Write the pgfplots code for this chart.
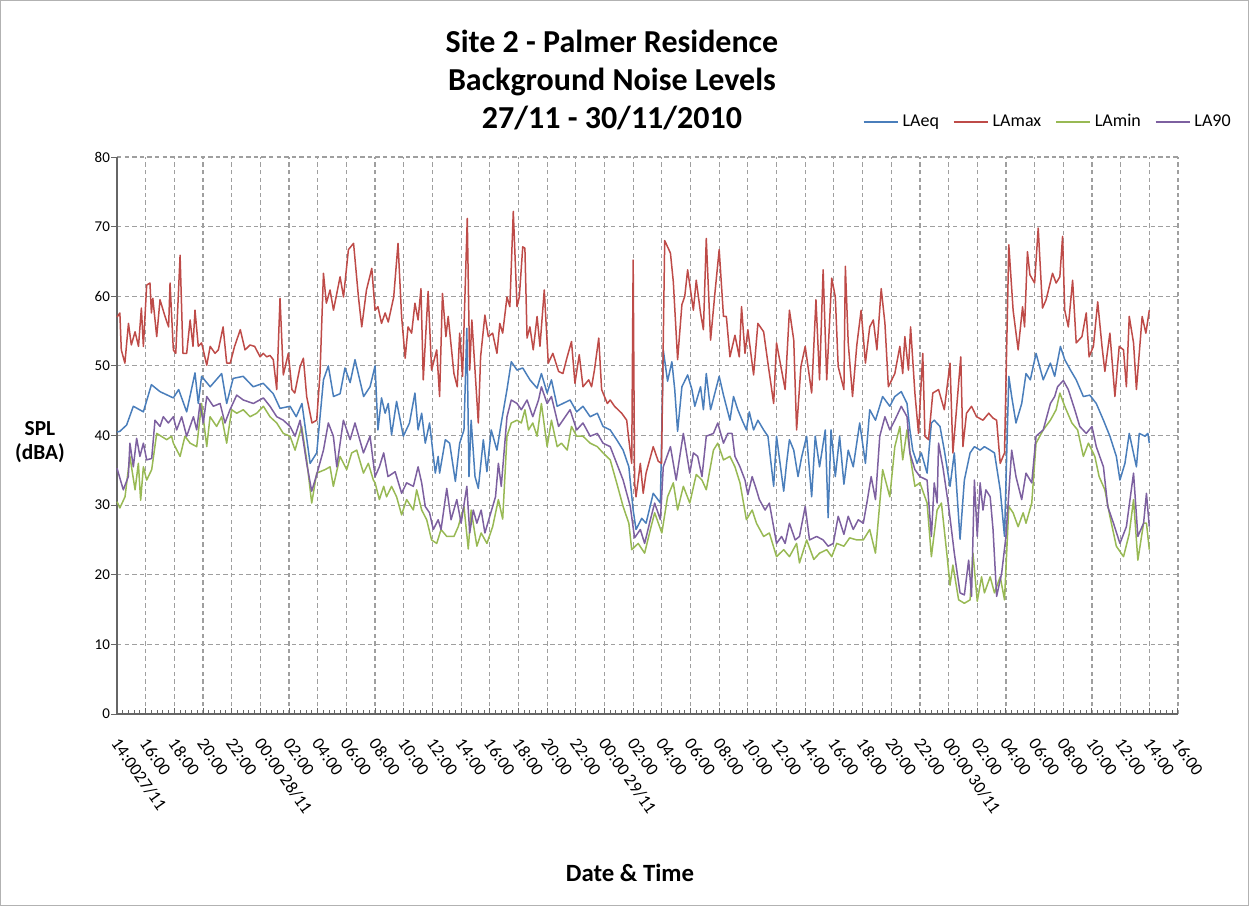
\documentclass[border=0pt]{standalone}
\usepackage{fontspec}
\setmainfont{Carlito}
\usepackage{pgfplots}
\pgfplotsset{compat=1.18}
\definecolor{cEq}{HTML}{4A7EBB}
\definecolor{cMax}{HTML}{BE4B48}
\definecolor{cMin}{HTML}{98B954}
\definecolor{cNinety}{HTML}{7D60A0}
\begin{document}
\begin{tikzpicture}
\path[use as bounding box] (-58.5pt,-96pt) rectangle (566pt,357pt);
\draw[gray!60, line width=0.5pt] (-58.25pt,-95.75pt) rectangle (565.75pt,356.75pt);
\begin{axis}[
    width=530.5pt, height=278.5pt, scale only axis,
    xmin=0, xmax=74, ymin=0, ymax=80,
    axis x line=bottom, axis y line=left,
    axis line style={-, draw=gray!80!black, line width=0.6pt},
    xtick={0,2,...,74},
    xticklabels={14:0027/11,16:00,18:00,20:00,22:00,00:00 28/11,02:00,04:00,06:00,08:00,10:00,12:00,14:00,16:00,18:00,20:00,22:00,00:00 29/11,02:00,04:00,06:00,08:00,10:00,12:00,14:00,16:00,18:00,20:00,22:00,00:00 30/11,02:00,04:00,06:00,08:00,10:00,12:00,14:00,16:00},
    minor x tick num=4,
    ytick={0,10,...,80},
    tick align=inside,
    major tick length=3pt, minor tick length=2pt,
    tick style={gray!80!black, line width=0.5pt},
    ytick style={xshift=-3pt},
    grid=major,
    major grid style={gray!75, dash pattern=on 2.2pt off 1.6pt, line width=0.6pt},
    /pgf/number format/assume math mode=true,
    xticklabel style={font=\fontsize{8.8}{10}\selectfont, xshift=-1pt, yshift=-13pt, rotate=-55, anchor=west, inner sep=0pt},
    yticklabel style={font=\fontsize{7.5}{9}\selectfont},
    legend style={at={(1.0595,1.063)}, anchor=east, legend columns=4, draw=none, fill=none,
        font=\fontsize{9}{10}\selectfont,
        /tikz/every even column/.append style={column sep=5pt}},
    legend cell align=left,
    clip=false,
    every axis plot/.append style={line width=0.75pt, no markers, line join=round},
]
\addplot[cEq] coordinates {
(0,40.5)(0.2,40.6)(0.67,41.5)(1.14,44.2)(1.84,43.4)(2.4,47.3)(3.0,46.3)(3.93,45.4)(4.3,46.6)(4.86,43.4)(5.44,49.0)(5.67,44.6)(5.9,48.5)(6.5,47.0)(7.3,48.9)(7.65,44.6)(8.1,48.2)(8.8,48.5)(9.5,47.0)(10.2,47.5)(10.9,46.0)(11.37,43.9)(12.07,44.2)(12.5,42.7)(12.9,44.6)(13.47,36.0)(13.93,37.5)(14.4,48.0)(14.74,50.0)(15.1,45.6)(15.56,46.0)(15.9,49.7)(16.26,47.6)(16.6,50.9)(17.2,45.6)(17.65,47.0)(18.0,50.0)
(18.2,40.8)(18.45,45.4)(18.7,43.2)(18.92,44.6)(19.15,40.1)(19.5,44.9)(19.97,39.9)(20.4,41.8)(20.78,46.1)(21.0,40.8)(21.25,43.2)(21.5,38.9)(21.8,41.8)(22.2,34.6)(22.4,37.0)(22.5,34.6)(22.9,39.4)(23.2,38.9)(23.6,33.4)(23.9,38.9)(24.2,40.8)(24.4,55.4)(24.55,34.1)(24.7,42.2)(24.97,34.1)(25.2,32.4)(25.55,39.4)(25.8,34.8)(26.1,40.8)(26.5,37.9)(26.8,41.8)(27.2,46.6)(27.5,50.6)(27.9,49.4)(28.3,49.7)(28.8,48.0)(29.3,46.8)(29.6,48.9)(30.0,46.1)(30.3,48.0)(30.7,44.2)(31.1,44.6)(31.6,45.1)(32.06,43.4)(32.5,44.2)(33.0,42.7)(33.5,43.2)(33.9,41.3)(34.4,40.8)(34.85,39.4)(35.3,37.9)(35.7,35.5)
(36.0,29.3)(36.2,26.5)(36.6,28.1)(36.9,27.4)(37.4,31.7)(37.9,30.3)(38.1,52.3)(38.4,47.8)(38.7,50.6)(38.9,46.6)(39.1,40.6)(39.4,47.0)(39.8,48.7)(40.1,46.6)(40.3,44.2)(40.7,47.0)(40.9,43.7)(41.1,48.9)(41.4,43.7)(41.7,46.1)(42.0,48.5)(42.3,45.8)(42.75,42.2)(43.0,45.6)(43.3,43.7)(43.6,42.2)(43.9,40.8)(44.1,43.4)(44.4,40.8)(44.7,42.2)(45.1,40.8)(45.4,39.9)(45.8,32.7)(46.0,39.9)(46.5,32.0)(46.7,36.0)(46.9,39.4)(47.2,37.9)(47.5,34.1)(47.75,36.9)(48.1,39.9)(48.45,31.2)(48.7,39.9)(49.0,35.5)(49.4,40.8)(49.6,28.2)(49.8,40.8)(50.1,34.1)(50.4,39.9)(50.7,33.0)(51.0,37.9)(51.35,35.5)(51.8,41.8)(52.2,36.0)(52.5,43.7)(52.9,42.2)(53.4,45.6)(53.9,44.2)
(54.25,45.6)(54.7,46.3)(55.1,44.6)(55.3,40.8)(55.5,37.9)(55.8,36.0)(56.1,37.5)(56.5,34.6)(56.8,41.8)(57.0,42.2)(57.4,41.3)(57.7,37.9)(58.1,32.7)(58.4,37.5)(58.8,25.1)(59.1,33.6)(59.5,37.5)(59.8,38.4)(60.2,37.9)(60.5,38.4)(60.9,37.9)(61.2,37.5)(61.6,32.2)(61.9,25.5)(62.2,48.5)(62.4,45.6)(62.7,41.8)(63.1,44.6)(63.4,48.9)(63.7,48.0)(64.1,51.8)(64.6,48.0)(65.1,50.4)(65.4,48.5)(65.8,52.8)(66.1,50.9)(66.5,49.4)(66.9,48.0)(67.4,45.6)(67.85,45.8)(68.3,44.6)(68.8,42.2)(69.25,39.9)(69.7,37.0)(69.95,33.6)(70.3,36.0)(70.6,40.3)(71.1,35.5)(71.3,40.3)(71.7,39.9)(71.9,40.3)(72.0,38.9)
};
\addlegendentry{LAeq}
\addplot[cMax] coordinates {
(0,57.0)(0.2,57.6)(0.3,52.3)(0.55,50.4)(0.8,56.1)(1.0,53.0)(1.26,54.9)(1.5,52.8)(1.7,58.3)(1.84,52.8)(2.07,61.6)(2.3,61.9)(2.4,57.6)(2.5,59.7)(2.77,54.2)(3.0,59.5)(3.35,57.1)(3.6,55.6)(3.7,61.9)(3.93,52.3)(4.1,51.8)(4.4,65.9)(4.6,51.8)(4.86,51.8)(5.1,56.6)(5.3,52.8)(5.44,58.0)(5.67,52.8)(5.9,53.3)(6.26,50.1)(6.5,52.8)(6.84,51.8)(7.07,52.3)(7.4,55.6)(7.65,50.4)(7.9,50.4)(8.2,52.8)(8.6,55.2)(8.93,52.3)(9.28,53.0)(9.6,52.8)(9.98,51.3)(10.2,51.8)(10.44,51.3)(10.67,51.5)(10.9,50.9)(11.14,46.6)(11.37,59.7)(11.6,48.7)(11.95,51.8)(12.2,46.6)(12.4,46.1)(12.77,49.9)(13.0,51.1)(13.23,45.6)(13.6,41.8)(13.93,42.2)(14.16,48.9)(14.4,63.3)(14.6,59.0)(14.86,60.9)(15.1,58.0)(15.56,62.8)(15.8,59.9)(16.14,66.7)(16.5,67.6)(16.84,59.9)(17.07,55.6)(17.4,60.9)(17.77,64.0)(18.0,58.0)
(18.2,58.5)(18.45,56.1)(18.7,57.6)(18.92,56.3)(19.3,59.9)(19.6,67.6)(19.85,57.1)(20.1,51.1)(20.3,55.6)(20.55,54.7)(20.78,59.0)(21.0,56.6)(21.2,61.1)(21.36,48.0)(21.7,60.7)(21.94,49.4)(22.3,52.3)(22.5,45.6)(22.7,60.4)(22.94,54.2)(23.1,57.1)(23.5,48.9)(23.73,47.0)(23.9,54.7)(24.1,48.5)(24.43,71.2)(24.6,49.4)(24.75,56.6)(24.97,49.4)(25.2,41.8)(25.36,51.3)(25.66,57.3)(25.9,54.2)(26.2,54.7)(26.5,51.8)(26.7,56.1)(26.9,54.7)(27.2,59.9)(27.4,58.5)(27.64,72.2)(27.9,58.5)(28.06,59.9)(28.3,67.1)(28.45,66.9)(28.6,54.0)(28.8,55.6)(29.03,52.3)(29.3,57.1)(29.5,52.8)(29.8,60.9)(30.08,50.4)(30.4,51.8)(30.8,49.2)(31.1,48.9)(31.4,51.3)(31.7,53.5)(31.94,47.5)(32.24,51.6)(32.5,47.0)(32.9,48.0)(33.1,47.0)(33.3,49.4)(33.6,54.0)(33.8,46.6)(34.2,44.6)(34.4,45.1)(34.7,44.2)(35.2,43.2)(35.55,42.2)(35.66,40.1)(35.9,36.0)(36.0,65.2)
(36.1,33.2)(36.2,31.2)(36.5,36.0)(36.7,31.7)(36.9,34.6)(37.4,38.4)(37.75,36.3)(37.98,36.0)(38.2,68.0)(38.6,66.2)(38.8,62.1)(39.1,50.9)(39.4,58.8)(39.6,60.0)(39.8,63.8)(40.2,58.0)(40.4,62.3)(40.7,57.6)(40.9,55.2)(41.1,68.3)(41.4,53.7)(41.7,60.4)(42.0,66.7)(42.3,57.1)(42.5,57.1)(42.75,51.3)(43.1,54.4)(43.4,51.3)(43.56,58.5)(43.8,51.8)(44.0,55.2)(44.4,48.7)(44.7,56.1)(45.1,54.9)(45.4,50.4)(45.8,44.6)(46.0,53.3)(46.6,46.6)(46.9,58.0)(47.2,53.7)(47.4,40.8)(47.7,49.9)(48.0,52.8)(48.45,46.1)(48.75,59.5)(49.0,48.0)(49.25,63.8)(49.5,48.0)(49.85,62.6)(50.1,59.9)(50.3,49.9)(50.7,46.6)(50.8,64.3)(51.0,53.3)(51.3,45.6)(51.6,53.0)(51.9,58.0)(52.2,50.4)(52.5,55.6)(52.75,56.6)(53.0,52.3)(53.3,61.1)(53.56,56.1)(53.8,47.0)
(54.25,48.9)(54.6,52.8)(54.8,48.9)(54.95,54.2)(55.2,49.4)(55.35,55.6)(55.65,46.1)(55.9,40.3)(56.2,51.8)(56.35,39.9)(56.6,39.4)(56.9,46.1)(57.3,46.6)(57.7,43.7)(58.1,50.4)(58.3,37.5)(58.55,43.7)(58.85,51.3)(59.0,38.4)(59.25,43.2)(59.6,44.2)(59.95,42.7)(60.4,42.2)(60.8,43.2)(61.1,42.5)(61.35,42.2)(61.6,36.0)(61.9,37.5)(62.2,67.4)(62.5,58.0)(62.85,52.3)(63.16,58.5)(63.3,55.6)(63.5,66.4)(63.67,63.1)(64.0,61.9)(64.25,69.8)(64.55,58.3)(64.8,59.5)(65.25,63.3)(65.5,61.9)(65.76,62.8)(65.95,68.6)(66.1,58.0)(66.35,55.6)(66.65,62.3)(66.9,53.3)(67.3,54.2)(67.6,57.6)(67.8,51.3)(68.1,52.8)(68.4,59.2)(68.7,52.8)(68.9,49.2)(69.25,54.7)(69.6,45.6)(69.9,52.8)(70.2,52.3)(70.4,47.0)(70.6,57.1)(70.9,53.3)(71.1,46.6)(71.5,57.1)(71.76,54.7)(72.0,58.0)
};
\addlegendentry{LAmax}
\addplot[cMin] coordinates {
(0,30.5)(0.2,29.6)(0.56,31.2)(0.9,37.0)(1.26,32.2)(1.49,36.0)(1.65,30.7)(1.84,35.5)(2.07,33.6)(2.42,35.1)(2.77,40.3)(3.47,39.4)(3.81,39.9)(3.93,38.9)(4.4,37.0)(4.74,39.9)(5.1,38.9)(5.56,38.4)(5.9,44.6)(6.26,38.4)(6.49,42.7)(6.95,41.3)(7.3,42.7)(7.65,38.9)(8.0,43.7)(8.35,43.2)(8.81,43.7)(9.28,42.7)(9.74,43.2)(10.21,44.2)(10.67,42.7)(11.14,41.8)(11.6,40.3)(12.07,39.9)(12.42,37.9)(12.88,41.3)(13.23,36.5)(13.58,30.3)(13.93,34.6)(14.51,35.1)(14.86,35.5)(15.09,32.7)(15.56,37.0)(16.02,35.1)(16.37,37.5)(16.72,37.9)(17.19,34.6)(17.53,36.0)(17.88,33.6)
(18.0,33.2)(18.3,30.8)(18.6,32.7)(18.8,31.2)(19.15,32.7)(19.5,31.2)(19.85,28.6)(20.2,30.8)(20.67,29.3)(20.9,32.2)(21.25,29.3)(21.6,27.9)(21.94,25.0)(22.3,24.5)(22.6,26.5)(23.0,25.5)(23.5,25.5)(23.8,26.9)(24.2,29.8)(24.5,23.7)(24.7,29.3)(25.1,24.1)(25.4,26.0)(25.8,24.5)(26.2,26.9)(26.6,30.8)(26.9,28.0)(27.2,39.9)(27.5,41.8)(27.9,42.2)(28.2,41.8)(28.45,43.7)(28.7,40.8)(29.0,41.8)(29.3,39.9)(29.6,44.6)(30.0,38.4)(30.3,42.2)(30.7,38.4)(31.0,38.9)(31.4,37.9)(31.7,41.3)(32.06,39.9)(32.5,39.9)(33.0,38.9)(33.5,38.4)(33.9,37.5)(34.4,36.5)(34.85,33.2)(35.3,29.8)(35.7,27.4)
(35.9,23.6)(36.35,24.5)(36.8,23.1)(37.2,26.5)(37.5,28.9)(38.0,26.0)(38.4,31.2)(38.8,33.2)(39.1,29.3)(39.5,32.7)(39.95,30.3)(40.4,34.4)(40.8,33.6)(41.1,32.2)(41.6,37.9)(41.9,38.9)(42.3,36.5)(42.75,37.0)(43.1,35.5)(43.45,33.2)(43.9,27.9)(44.3,29.3)(44.6,27.4)(45.1,25.5)(45.5,26.0)(46.0,22.6)(46.5,23.6)(46.9,22.6)(47.4,24.5)(47.6,21.7)(48.1,25.0)(48.6,22.2)(49.0,23.1)(49.5,23.6)(49.85,22.6)(50.2,24.5)(50.7,24.1)(51.1,25.3)(51.6,25.0)(52.05,25.0)(52.5,26.5)(52.9,23.1)(53.4,35.1)(53.9,31.2)
(54.25,38.4)(54.6,41.3)(54.8,36.5)(55.1,40.8)(55.4,36.0)(55.65,32.7)(56.0,33.2)(56.5,30.3)(56.8,22.6)(57.2,29.3)(57.5,30.3)(57.9,22.6)(58.1,18.5)(58.3,21.4)(58.7,16.4)(59.1,15.9)(59.5,16.4)(59.7,23.1)(60.0,16.2)(60.3,19.7)(60.5,17.4)(60.9,19.7)(61.2,17.4)(61.6,19.7)(61.9,16.4)(62.2,29.8)(62.5,28.9)(62.85,26.9)(63.2,28.9)(63.4,27.4)(63.8,30.3)(64.1,38.9)(64.6,40.8)(65.1,42.2)(65.5,43.7)(65.76,46.1)(66.1,44.2)(66.6,41.8)(67.0,40.8)(67.4,37.0)(67.75,38.9)(68.2,37.0)(68.5,34.1)(68.9,32.2)(69.25,28.4)(69.7,24.1)(70.2,22.6)(70.6,25.9)(70.9,30.8)(71.2,22.1)(71.6,27.4)(71.8,27.4)(72.0,23.6)
};
\addlegendentry{LAmin}
\addplot[cNinety] coordinates {
(0,35.3)(0.44,32.2)(0.79,34.1)(0.9,38.9)(1.14,35.5)(1.37,39.6)(1.6,37.0)(1.84,38.9)(2.07,36.5)(2.42,36.7)(2.65,42.2)(3.0,41.3)(3.23,42.7)(3.58,41.8)(3.93,42.7)(4.16,40.8)(4.51,42.7)(4.86,39.9)(5.33,42.7)(5.56,40.8)(5.79,44.6)(6.02,41.8)(6.26,45.6)(6.72,44.2)(7.19,44.6)(7.53,41.8)(7.88,43.7)(8.35,45.8)(8.81,45.1)(9.51,44.6)(10.21,45.4)(10.67,44.2)(11.14,42.7)(11.6,42.2)(12.07,41.3)(12.42,39.9)(12.77,42.2)(13.23,36.0)(13.58,32.0)(13.93,34.4)(14.4,37.9)(14.74,41.8)(15.09,39.9)(15.33,35.5)(15.79,42.2)(16.26,39.4)(16.6,41.8)(17.19,37.5)(17.65,39.9)
(18.0,34.1)(18.3,35.5)(18.6,37.5)(18.9,34.1)(19.4,34.8)(19.85,31.7)(20.2,33.2)(20.67,32.7)(21.0,35.5)(21.25,33.2)(21.5,29.8)(21.8,28.9)(22.06,26.5)(22.4,27.9)(22.6,26.5)(23.0,32.4)(23.3,27.9)(23.7,30.8)(24.0,27.4)(24.4,32.7)(24.6,26.0)(24.85,29.3)(25.1,27.4)(25.4,29.3)(25.66,26.0)(26.0,28.4)(26.4,31.2)(26.6,36.0)(26.8,32.7)(27.2,42.7)(27.5,45.1)(27.9,44.6)(28.2,43.7)(28.6,45.1)(29.0,42.7)(29.4,45.1)(29.6,47.0)(30.0,44.6)(30.3,45.6)(30.8,41.3)(31.1,42.2)(31.6,43.7)(32.06,40.8)(32.5,41.8)(33.0,39.9)(33.5,40.3)(33.9,38.9)(34.4,38.4)(34.85,36.0)(35.3,33.6)(35.8,29.8)
(36.1,25.3)(36.5,26.5)(36.8,24.5)(37.2,27.9)(37.5,30.3)(37.9,27.9)(38.1,35.5)(38.6,38.4)(39.0,33.6)(39.5,40.3)(39.95,34.6)(40.2,37.5)(40.5,37.0)(40.8,34.1)(41.1,39.9)(41.6,40.3)(41.9,41.8)(42.3,38.9)(42.6,40.3)(42.9,40.3)(43.1,37.0)(43.45,35.5)(43.8,33.6)(44.0,31.5)(44.3,34.1)(44.6,32.2)(44.8,30.8)(45.2,29.3)(45.5,30.3)(46.0,24.5)(46.35,25.5)(46.6,24.5)(46.9,27.4)(47.3,25.0)(47.6,25.5)(48.0,29.8)(48.3,25.0)(48.8,25.5)(49.25,25.0)(49.6,24.1)(49.96,24.5)(50.3,28.4)(50.7,25.8)(51.0,28.4)(51.35,26.5)(51.7,27.9)(52.05,27.4)(52.3,30.3)(52.6,34.1)(52.9,30.8)(53.2,39.9)(53.56,42.7)(53.9,40.8)
(54.25,42.2)(54.7,44.2)(55.1,42.7)(55.3,37.5)(55.65,35.1)(56.0,34.1)(56.5,33.6)(56.8,25.5)(57.0,33.2)(57.2,30.3)(57.3,38.9)(57.6,35.5)(57.97,30.3)(58.2,26.5)(58.4,23.1)(58.8,17.4)(59.1,17.1)(59.4,22.1)(59.6,16.9)(59.8,33.6)(60.0,25.5)(60.2,33.2)(60.4,29.3)(60.6,32.2)(60.9,31.2)(61.1,26.5)(61.35,16.9)(61.7,20.2)(62.0,25.5)(62.4,37.9)(62.7,34.1)(63.1,30.8)(63.4,34.6)(63.8,33.2)(64.1,39.9)(64.6,40.8)(65.1,44.6)(65.4,45.6)(65.6,47.0)(66.0,47.9)(66.35,46.6)(66.8,43.7)(67.15,41.3)(67.6,40.3)(68.0,41.3)(68.3,38.4)(68.8,35.5)(69.1,29.8)(69.5,27.4)(69.95,24.5)(70.4,26.9)(70.9,34.6)(71.2,25.5)(71.6,27.4)(71.8,31.7)(72.0,26.9)
};
\addlegendentry{LA90}
\node[align=center, font=\fontsize{16}{19}\selectfont\bfseries] at (rel axis cs:0.4665,1.138)
    {Site 2 - Palmer Residence\\Background Noise Levels\\27/11 - 30/11/2010};
\node[align=center, font=\fontsize{10.7}{12}\selectfont\bfseries] at (rel axis cs:-0.0726,0.488) {SPL\\(dBA)};
\node[font=\fontsize{12.4}{14}\selectfont\bfseries] at (rel axis cs:0.4835,-0.2855) {Date \& Time};
\end{axis}
\end{tikzpicture}
\end{document}
